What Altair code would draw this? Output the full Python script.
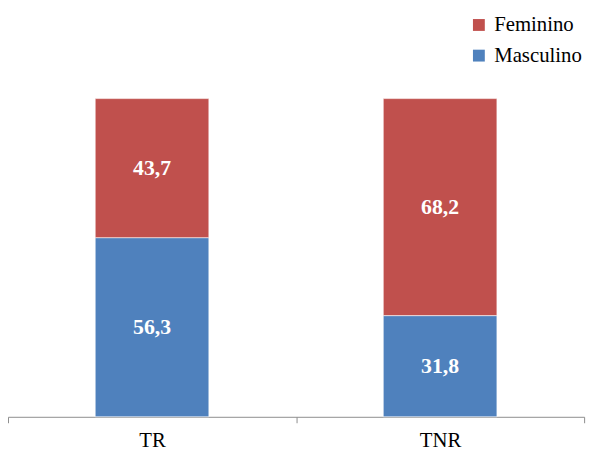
import altair as alt
import pandas as pd

categories = ["TR", "TR", "TNR", "TNR"]
series = ["Masculino", "Feminino", "Masculino", "Feminino"]
values = [56.3, 43.7, 31.8, 68.2]
order = [0, 1, 0, 1]

df = pd.DataFrame({"cat": categories, "sexo": series, "valor": values, "ord": order})

FONT = "Liberation Serif"

base = alt.Chart(df).encode(
    x=alt.X("cat:N", sort=["TR", "TNR"], title=None,
            scale=alt.Scale(paddingInner=0, paddingOuter=0),
            axis=alt.Axis(labelAngle=0, tickBand="extent", domainColor="#8c8c8c",
                          tickColor="#8c8c8c", tickSize=6, labelFont=FONT,
                          labelFontSize=21, labelColor="#000000", labelPadding=7,
                          labelFontWeight="normal")),
    y=alt.Y("valor:Q", stack="zero", scale=alt.Scale(domain=[0, 100]), axis=None),
    order=alt.Order("ord:Q"),
)

bars = base.mark_bar(size=115, stroke="#ffffff", strokeWidth=0.6).encode(
    color=alt.Color("sexo:N",
                    scale=alt.Scale(domain=["Feminino", "Masculino"], range=["#C0504D", "#4F81BD"]),
                    legend=alt.Legend(title=None, orient="none", legendX=466, legendY=-85,
                                      symbolType="square", symbolSize=144, symbolStrokeWidth=0,
                                      labelFont=FONT, labelFontSize=21, labelColor="#000000",
                                      labelFontWeight="normal",
                                      rowPadding=9, labelOffset=5)),
)

labels = base.transform_calculate(
    lab="replace(format(datum.valor, '.1f'), '.', ',')"
).mark_text(font=FONT, fontSize=22, fontWeight="bold", color="white").encode(
    y=alt.Y("mid:Q", scale=alt.Scale(domain=[0, 100]), axis=None),
    text="lab:N",
).transform_stack(
    stack="valor", groupby=["cat"], as_=["v0", "v1"], sort=[alt.SortField("ord", order="ascending")]
).transform_calculate(mid="(datum.v0 + datum.v1) / 2")

chart = alt.layer(bars, labels).properties(
    width=583, height=322,
    padding={"left": 0, "top": 89, "right": 10, "bottom": 38},
    autosize=alt.AutoSizeParams(type="none"),
).configure_view(stroke=None)

chart.save("out.html", embed_options={"renderer": "svg", "actions": False})
